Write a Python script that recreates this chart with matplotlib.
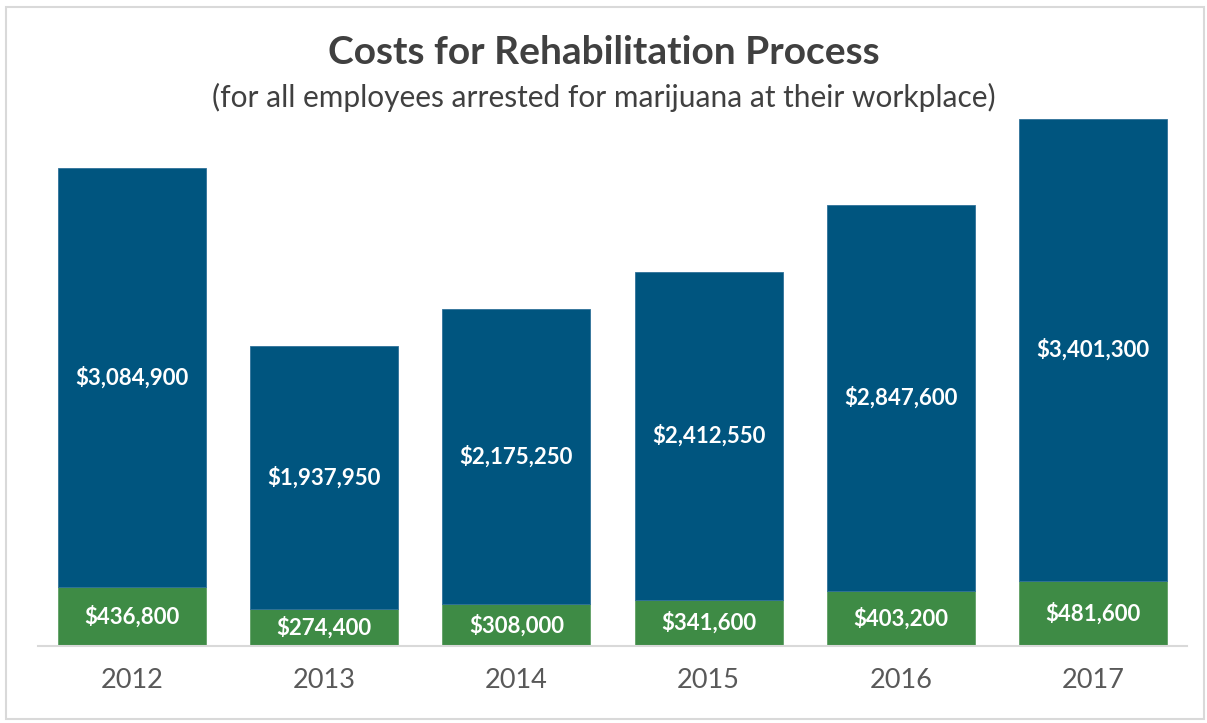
import matplotlib.pyplot as plt
from matplotlib.patches import Rectangle

years = ['2012', '2013', '2014', '2015', '2016', '2017']
base_costs = [436800, 274400, 308000, 341600, 403200, 481600]
rehab_costs = [3084900, 1937950, 2175250, 2412550, 2847600, 3401300]

blue = '#00557F'
green = '#3E8B45'

plt.rcParams['font.family'] = ['Lato', 'DejaVu Sans']

fig = plt.figure(figsize=(12.07, 7.23), dpi=100)
ax = fig.add_axes([38 / 1207, 77 / 723, 1149 / 1207, 543 / 723])

x = range(len(years))
ax.bar(x, base_costs, width=0.77, color=green, edgecolor='#5fa065', linewidth=0.6)
ax.bar(x, rehab_costs, width=0.77, bottom=base_costs, color=blue,
       edgecolor='#2f7199', linewidth=0.6)

for i in x:
    ax.text(i, base_costs[i] / 2, f'${base_costs[i]:,}', ha='center', va='center',
            color='white', fontsize=16, fontweight='bold')
    ax.text(i, base_costs[i] + rehab_costs[i] / 2, f'${rehab_costs[i]:,}',
            ha='center', va='center', color='white', fontsize=16, fontweight='bold')

ax.set_xlim(-0.49, 5.49)
ax.set_ylim(0, 4000000)
ax.set_xticks(list(x))
ax.set_xticklabels(years, fontsize=19.5, color='#595959')
ax.tick_params(axis='x', length=0, pad=16)
ax.set_yticks([])
for side in ['top', 'left', 'right']:
    ax.spines[side].set_visible(False)
ax.spines['bottom'].set_color('#d9d9d9')
ax.spines['bottom'].set_linewidth(1.5)

fig.text(0.5, 1 - 52 / 723, 'Costs for Rehabilitation Process', ha='center',
         va='center', fontsize=28, fontweight='bold', color='#404040')
fig.text(0.5, 1 - 97 / 723,
         '(for all employees arrested for marijuana at their workplace)',
         ha='center', va='center', fontsize=21.5, color='#404040')

# light frame around the whole chart
fig.patches.append(Rectangle((6 / 1207, 4 / 723), 1198 / 1207, 712 / 723,
                             transform=fig.transFigure, fill=False,
                             edgecolor='#d9d9d9', linewidth=1.5))

fig.savefig('out.png', dpi=100)
